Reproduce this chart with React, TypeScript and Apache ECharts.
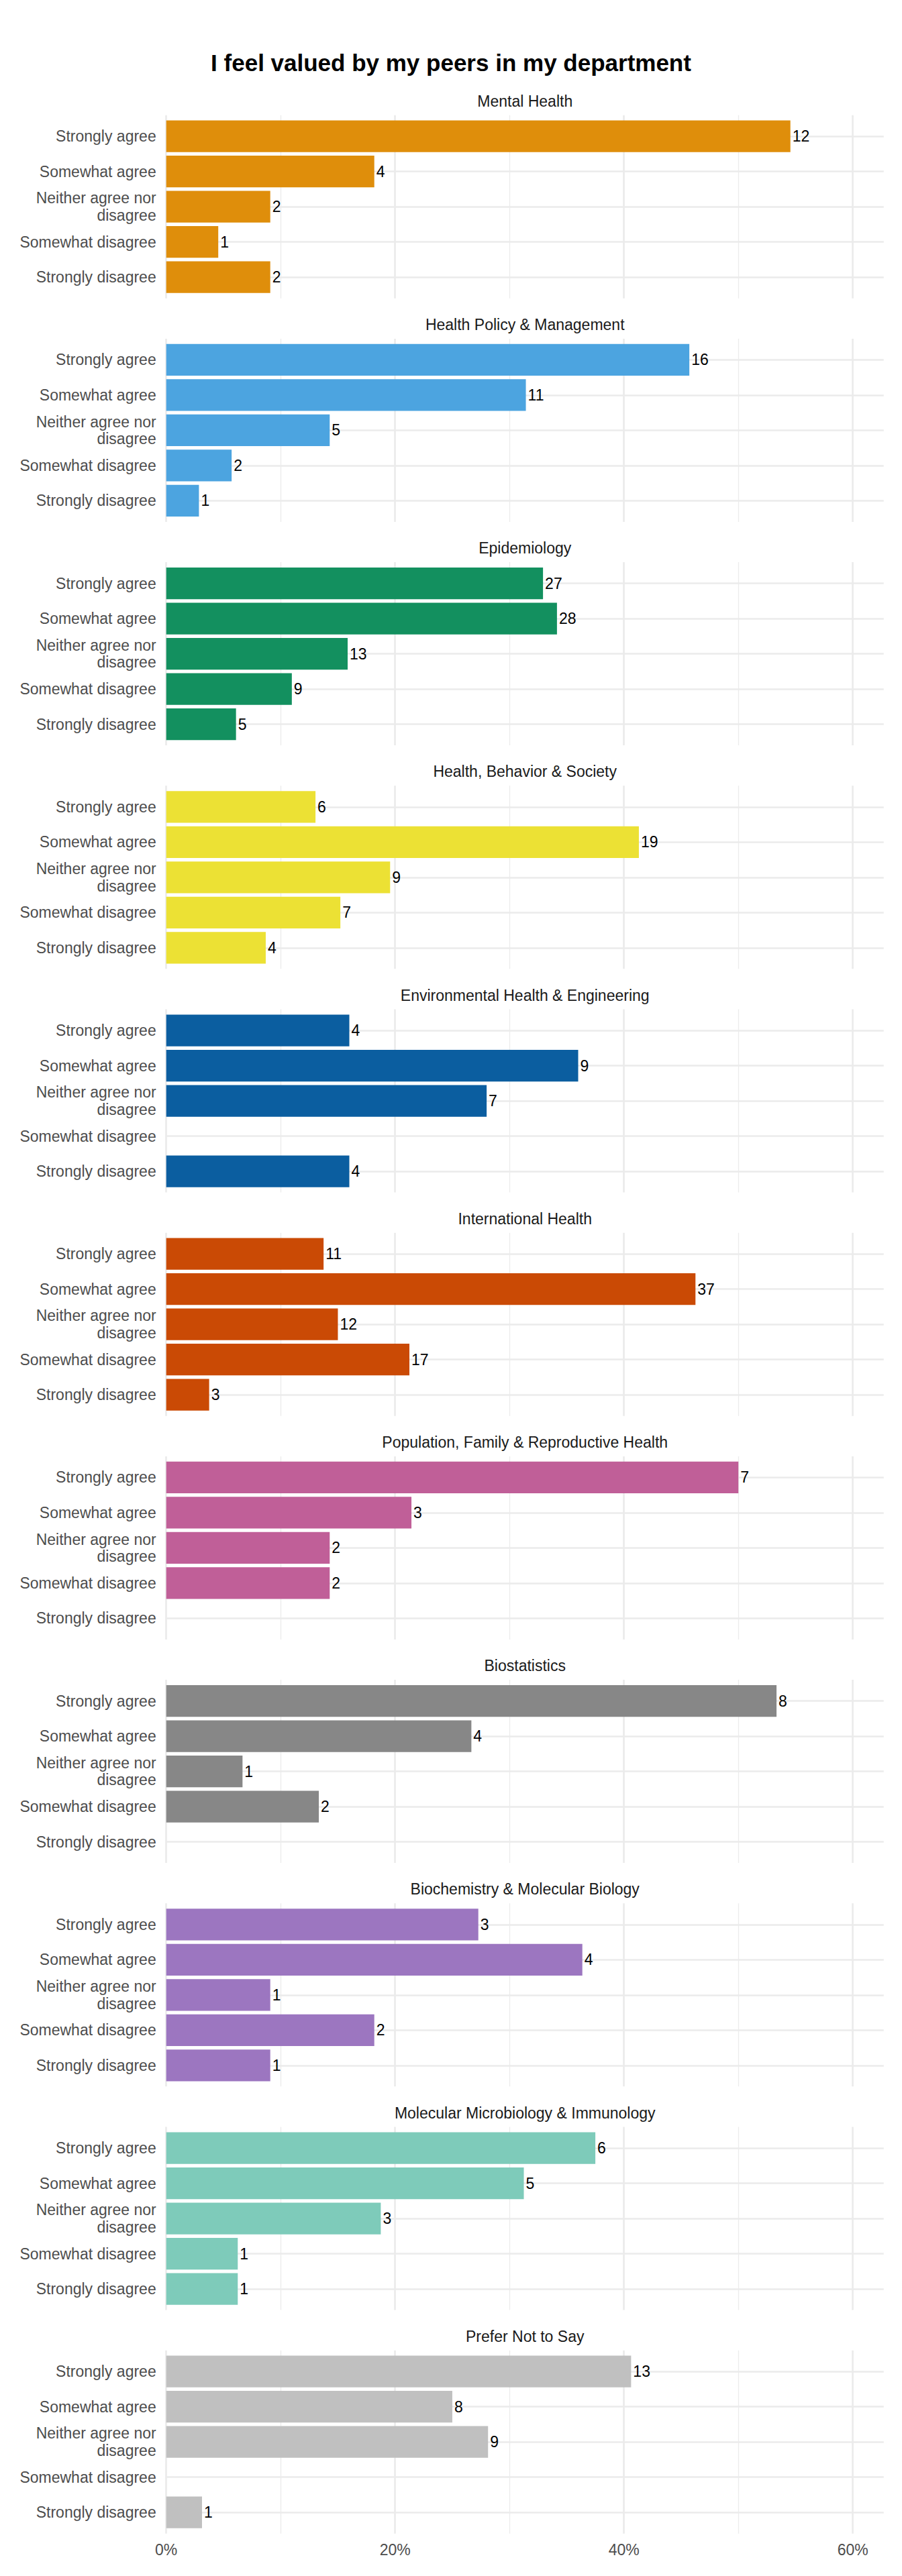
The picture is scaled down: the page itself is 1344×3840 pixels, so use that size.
import React, { useEffect, useRef } from "react";
import * as echarts from "echarts";

const chartTitle = "I feel valued by my peers in my department";

const categories = [
  "Strongly agree",
  "Somewhat agree",
  "Neither agree nor disagree",
  "Somewhat disagree",
  "Strongly disagree",
];

const departments = [
  "Mental Health",
  "Health Policy & Management",
  "Epidemiology",
  "Health, Behavior & Society",
  "Environmental Health & Engineering",
  "International Health",
  "Population, Family & Reproductive Health",
  "Biostatistics",
  "Biochemistry & Molecular Biology",
  "Molecular Microbiology & Immunology",
  "Prefer Not to Say",
];

// counts per category (Strongly agree ... Strongly disagree)
const mentalHealth = [12, 4, 2, 1, 2];
const healthPolicy = [16, 11, 5, 2, 1];
const epidemiology = [27, 28, 13, 9, 5];
const healthBehavior = [6, 19, 9, 7, 4];
const environmentalHealth = [4, 9, 7, 0, 4];
const internationalHealth = [11, 37, 12, 17, 3];
const populationFamily = [7, 3, 2, 2, 0];
const biostatistics = [8, 4, 1, 2, 0];
const biochemistry = [3, 4, 1, 2, 1];
const microbiology = [6, 5, 3, 1, 1];
const preferNotToSay = [13, 8, 9, 0, 1];

const countsByDept = [
  mentalHealth,
  healthPolicy,
  epidemiology,
  healthBehavior,
  environmentalHealth,
  internationalHealth,
  populationFamily,
  biostatistics,
  biochemistry,
  microbiology,
  preferNotToSay,
];

// respondents per department (denominator of the percentages)
const totals = [22, 35, 82, 46, 25, 80, 14, 15, 11, 16, 32];

const colors = [
  "#DF8E0B",
  "#4CA4E0",
  "#13905F",
  "#ECE134",
  "#0B5EA0",
  "#CA4A05",
  "#C05F98",
  "#878787",
  "#9C76C0",
  "#7ECBBA",
  "#C0C0C0",
];

const xTicks = [0, 20, 40, 60];

const FONT = "'Liberation Sans', Arial, Helvetica, sans-serif";

export default function App() {
  const ref = useRef<HTMLDivElement>(null);

  useEffect(() => {
    document.body.style.margin = "0";
    if (!ref.current) return;
    const chart = echarts.init(ref.current, null, { renderer: "svg" });

    const LEFT = 247.7;
    const PX_PER_PCT = 1023 / 60;
    const X_MAX = 62.7;
    const PANEL_TOP = 171.7;
    const PITCH = 333.2;
    const PANEL_H = 273;
    const BAND = PANEL_H / 5.2;
    const GRID_COLOR = "#EBEBEB";
    const FS = 23;

    const grids: any[] = [];
    const xAxes: any[] = [];
    const yAxes: any[] = [];
    const series: any[] = [];
    const graphics: any[] = [];

    graphics.push({
      type: "text",
      x: 672,
      y: 93,
      style: {
        text: chartTitle,
        textAlign: "center",
        textVerticalAlign: "middle",
        fontSize: 35,
        fontWeight: "bold",
        fontFamily: FONT,
        fill: "#000000",
      },
    });

    const last = departments.length - 1;

    departments.forEach((dept, i) => {
      const top = PANEL_TOP + i * PITCH;
      const counts = countsByDept[i];
      const total = totals[i];
      const bg = 2 * i;
      const fg = 2 * i + 1;

      grids.push({ left: LEFT, top, width: 60 * PX_PER_PCT, height: PANEL_H });
      grids.push({
        left: LEFT,
        top: top + BAND * 0.1,
        width: X_MAX * PX_PER_PCT,
        height: BAND * 5,
      });

      xAxes.push({
        type: "value",
        gridIndex: bg,
        min: xTicks[0],
        max: xTicks[xTicks.length - 1],
        interval: 20,
        axisLine: { show: false },
        axisTick: { show: false },
        axisLabel: {
          show: i === last,
          formatter: "{value}%",
          fontSize: FS,
          color: "#4D4D4D",
          fontFamily: FONT,
          margin: 13,
        },
        splitLine: { show: true, lineStyle: { color: GRID_COLOR, width: 2.7 } },
        minorTick: { show: false, splitNumber: 2 },
        minorSplitLine: { show: true, lineStyle: { color: GRID_COLOR, width: 1.3 } },
      });
      xAxes.push({
        type: "value",
        gridIndex: fg,
        min: 0,
        max: X_MAX,
        show: false,
        splitLine: { show: false },
      });

      yAxes.push({ type: "value", gridIndex: bg, show: false, splitLine: { show: false } });
      yAxes.push({
        type: "category",
        gridIndex: fg,
        data: categories,
        inverse: true,
        axisLine: { show: false },
        axisTick: { show: false },
        splitLine: { show: false },
        axisLabel: {
          fontSize: FS,
          lineHeight: 25.5,
          color: "#4D4D4D",
          fontFamily: FONT,
          margin: 15,
          formatter: (v: string) =>
            v === "Neither agree nor disagree" ? "Neither agree nor\ndisagree" : v,
        },
      });

      series.push({
        type: "line",
        xAxisIndex: fg,
        yAxisIndex: fg,
        data: [],
        z: 1,
        silent: true,
        markLine: {
          z: 1,
          silent: true,
          symbol: ["none", "none"],
          label: { show: false },
          lineStyle: { color: GRID_COLOR, width: 2.7, type: "solid" },
          data: categories.map((c) => ({ yAxis: c })),
        },
      });

      series.push({
        type: "bar",
        name: dept,
        xAxisIndex: fg,
        yAxisIndex: fg,
        z: 3,
        barWidth: BAND * 0.9,
        itemStyle: { color: colors[i] },
        data: counts.map((c) => (c > 0 ? (c / total) * 100 : null)),
        label: {
          show: true,
          position: "right",
          distance: 3,
          fontSize: FS,
          color: "#000000",
          fontFamily: FONT,
          formatter: (p: any) => String(counts[p.dataIndex]),
        },
      });

      graphics.push({
        type: "text",
        x: LEFT + (X_MAX * PX_PER_PCT) / 2,
        y: top - 21,
        style: {
          text: dept,
          textAlign: "center",
          textVerticalAlign: "middle",
          fontSize: FS,
          fontFamily: FONT,
          fill: "#1A1A1A",
        },
      });
    });

    chart.setOption({
      animation: false,
      backgroundColor: "#FFFFFF",
      textStyle: { fontFamily: FONT },
      grid: grids,
      xAxis: xAxes,
      yAxis: yAxes,
      series,
      graphic: graphics,
    });

    return () => {
      chart.dispose();
    };
  }, []);

  return <div ref={ref} style={{ width: 1344, height: 3840 }} />;
}
